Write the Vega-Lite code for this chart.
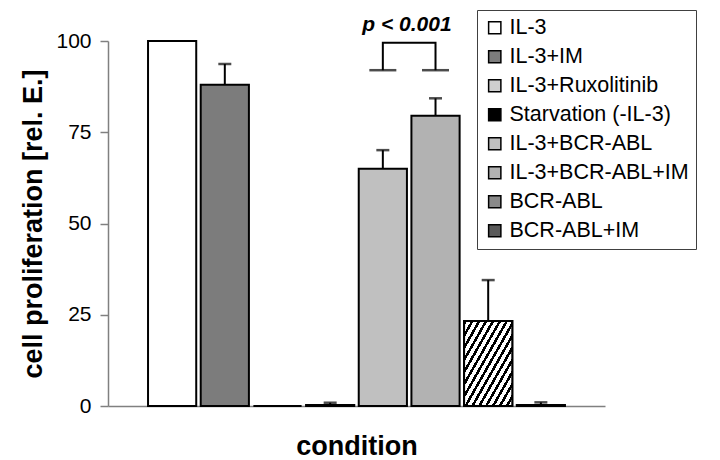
{
  "$schema": "https://vega.github.io/schema/vega-lite/v6.json",
  "autosize": "none",
  "width": 497,
  "height": 365,
  "padding": {"left": 108, "top": 41, "right": 115, "bottom": 54},
  "background": "white",
  "config": {
    "font": "Liberation Sans",
    "view": {"stroke": null}
  },
  "datasets": {
    "bars": [
      {"condition": "IL-3", "value": 100, "upper": null},
      {"condition": "IL-3+IM", "value": 88, "upper": 93.7},
      {"condition": "IL-3+Ruxolitinib", "value": 0, "upper": null},
      {"condition": "Starvation (-IL-3)", "value": 0.3, "upper": 0.9},
      {"condition": "IL-3+BCR-ABL", "value": 65, "upper": 70.1},
      {"condition": "IL-3+BCR-ABL+IM", "value": 79.5, "upper": 84.3},
      {"condition": "BCR-ABL", "value": 23.3, "upper": 34.5},
      {"condition": "BCR-ABL+IM", "value": 0.3, "upper": 1.0}
    ],
    "bracket": [
      {"condition": "IL-3+BCR-ABL", "y": 92, "order": 1},
      {"condition": "IL-3+BCR-ABL", "y": 99.5, "order": 2},
      {"condition": "IL-3+BCR-ABL+IM", "y": 99.5, "order": 3},
      {"condition": "IL-3+BCR-ABL+IM", "y": 92, "order": 4}
    ]
  },
  "layer": [
    {
      "data": {"name": "bars"},
      "mark": {"type": "bar", "stroke": "black", "strokeWidth": 2},
      "encoding": {
        "x": {
          "field": "condition", "type": "nominal", "sort": null,
          "scale": {"paddingInner": 0.085, "paddingOuter": 0.76},
          "axis": {
            "title": "condition", "labels": false, "ticks": false,
            "domainColor": "#808080", "domainWidth": 1.5,
            "titleFontSize": 27, "titleFontWeight": "bold", "titleColor": "black",
            "titlePadding": 27
          }
        },
        "y": {
          "field": "value", "type": "quantitative",
          "scale": {"domain": [0, 100]},
          "axis": {
            "title": "cell proliferation [rel. E.]", "values": [0, 25, 50, 75, 100],
            "grid": false, "domainColor": "#808080", "domainWidth": 1.5,
            "tickColor": "#808080", "tickWidth": 1.5, "tickSize": 8,
            "labelFontSize": 21, "labelColor": "black", "labelPadding": 9,
            "titleFontSize": 27, "titleFontWeight": "bold", "titleColor": "black",
            "titlePadding": 8
          }
        },
        "fill": {
          "field": "condition", "type": "nominal", "sort": null,
          "scale": {
            "domain": ["IL-3", "IL-3+IM", "IL-3+Ruxolitinib", "Starvation (-IL-3)", "IL-3+BCR-ABL", "IL-3+BCR-ABL+IM", "BCR-ABL", "BCR-ABL+IM"],
            "range": ["#ffffff", "#7c7c7c", "#cfcfcf", "#000000", "#c0c0c0", "#b2b2b2", "#8a8a8a", "#5a5a5a"]
          },
          "legend": {
            "orient": "none", "legendX": 369, "legendY": -31,
            "title": null, "symbolType": "square", "symbolSize": 150,
            "symbolStrokeColor": "black", "symbolStrokeWidth": 1.5,
            "labelFontSize": 21.5, "labelColor": "black", "labelOffset": 4,
            "labelExpr": "datum.label + '\u2003\u2003'",
            "rowPadding": 6, "padding": 7,
            "strokeColor": "#404040", "fillColor": "white", "labelLimit": 400,
            "encode": {
              "symbols": {
                "update": {
                  "stroke": {"value": "black"},
                  "strokeWidth": {"value": 1.5}
                }
              }
            }
          }
        }
      }
    },
    {
      "data": {"name": "bars"},
      "transform": [{"filter": "datum.condition === 'BCR-ABL'"}],
      "mark": {"type": "bar", "stroke": "black", "strokeWidth": 2,
        "fill": {"gradient": "linear", "x1": 0, "y1": 0, "x2": 1, "y2": 1, "stops": [
          {"offset": 0, "color": "black"}, {"offset": 0.03, "color": "black"}, {"offset": 0.03, "color": "white"}, {"offset": 0.0714, "color": "white"},
          {"offset": 0.0714, "color": "black"}, {"offset": 0.1014, "color": "black"}, {"offset": 0.1014, "color": "white"}, {"offset": 0.1429, "color": "white"},
          {"offset": 0.1429, "color": "black"}, {"offset": 0.1729, "color": "black"}, {"offset": 0.1729, "color": "white"}, {"offset": 0.2143, "color": "white"},
          {"offset": 0.2143, "color": "black"}, {"offset": 0.2443, "color": "black"}, {"offset": 0.2443, "color": "white"}, {"offset": 0.2857, "color": "white"},
          {"offset": 0.2857, "color": "black"}, {"offset": 0.3157, "color": "black"}, {"offset": 0.3157, "color": "white"}, {"offset": 0.3571, "color": "white"},
          {"offset": 0.3571, "color": "black"}, {"offset": 0.3871, "color": "black"}, {"offset": 0.3871, "color": "white"}, {"offset": 0.4286, "color": "white"},
          {"offset": 0.4286, "color": "black"}, {"offset": 0.4586, "color": "black"}, {"offset": 0.4586, "color": "white"}, {"offset": 0.5, "color": "white"},
          {"offset": 0.5, "color": "black"}, {"offset": 0.53, "color": "black"}, {"offset": 0.53, "color": "white"}, {"offset": 0.5714, "color": "white"},
          {"offset": 0.5714, "color": "black"}, {"offset": 0.6014, "color": "black"}, {"offset": 0.6014, "color": "white"}, {"offset": 0.6429, "color": "white"},
          {"offset": 0.6429, "color": "black"}, {"offset": 0.6729, "color": "black"}, {"offset": 0.6729, "color": "white"}, {"offset": 0.7143, "color": "white"},
          {"offset": 0.7143, "color": "black"}, {"offset": 0.7443, "color": "black"}, {"offset": 0.7443, "color": "white"}, {"offset": 0.7857, "color": "white"},
          {"offset": 0.7857, "color": "black"}, {"offset": 0.8157, "color": "black"}, {"offset": 0.8157, "color": "white"}, {"offset": 0.8571, "color": "white"},
          {"offset": 0.8571, "color": "black"}, {"offset": 0.8871, "color": "black"}, {"offset": 0.8871, "color": "white"}, {"offset": 0.9286, "color": "white"},
          {"offset": 0.9286, "color": "black"}, {"offset": 0.9586, "color": "black"}, {"offset": 0.9586, "color": "white"}, {"offset": 1, "color": "white"}
        ]}},
      "encoding": {
        "x": {"field": "condition", "type": "nominal", "sort": null},
        "y": {"field": "value", "type": "quantitative"}
      }
    },
    {
      "data": {"name": "bars"},
      "transform": [{"filter": "datum.upper != null"}],
      "mark": {"type": "rule", "color": "black", "strokeWidth": 2},
      "encoding": {
        "x": {"field": "condition", "type": "nominal", "sort": null},
        "y": {"field": "value", "type": "quantitative"},
        "y2": {"field": "upper"}
      }
    },
    {
      "data": {"name": "bars"},
      "transform": [{"filter": "datum.upper != null"}],
      "mark": {"type": "tick", "color": "black", "size": 13, "thickness": 2.5},
      "encoding": {
        "x": {"field": "condition", "type": "nominal", "sort": null},
        "y": {"field": "upper", "type": "quantitative"}
      }
    },
    {
      "data": {"name": "bracket"},
      "mark": {"type": "line", "color": "black", "strokeWidth": 2, "clip": false},
      "encoding": {
        "x": {"field": "condition", "type": "nominal", "sort": null},
        "y": {"field": "y", "type": "quantitative"},
        "order": {"field": "order"}
      }
    },
    {
      "data": {"name": "bracket"},
      "transform": [{"filter": "datum.y < 95"}],
      "mark": {"type": "tick", "color": "black", "size": 27, "thickness": 2.5},
      "encoding": {
        "x": {"field": "condition", "type": "nominal", "sort": null},
        "y": {"field": "y", "type": "quantitative"}
      }
    },
    {
      "data": {"values": [{"condition": "IL-3+BCR-ABL", "y": 104.4, "label": "p < 0.001"}]},
      "mark": {"type": "text", "fontSize": 21, "fontWeight": "bold", "fontStyle": "italic", "clip": false, "baseline": "middle"},
      "encoding": {
        "x": {"field": "condition", "type": "nominal", "sort": null, "bandPosition": 1},
        "y": {"field": "y", "type": "quantitative"},
        "text": {"field": "label"}
      }
    }
  ]
}
